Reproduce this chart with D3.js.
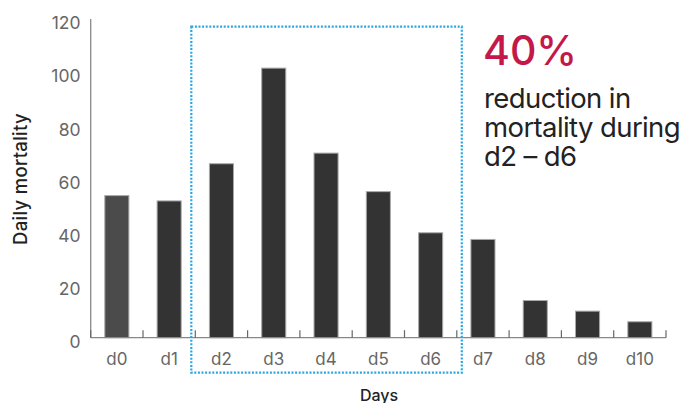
<!DOCTYPE html>
<html>
<head>
  <meta charset="utf-8">
  <title>Daily mortality</title>
  <script src="https://cdn.jsdelivr.net/npm/d3@7"></script>
  <style>
    body { margin: 0; background: #fff; }
    svg { display: block; font-family: Inter, "Noto Sans", sans-serif; }
  </style>
</head>
<body>
  <script>
    // data
    const days = ["d0", "d1", "d2", "d3", "d4", "d5", "d6", "d7", "d8", "d9", "d10"];
    const mortality = [53.5, 51.5, 65.5, 101.5, 69.5, 55, 39.5, 37, 14, 10, 6];
    const yTicks = [0, 20, 40, 60, 80, 100, 120];
    const highlight = ["d2", "d6"];

    const w = 683, h = 403;
    const left = 90.7, right = 666, bottom = 337.7;

    const x = d3.scaleBand()
      .domain(days)
      .range([left, right])
      .paddingInner(0.54)
      .paddingOuter(0.27);

    const y = d3.scaleLinear()
      .domain([0, 120])
      .range([bottom, 19]);

    const svg = d3.select("body").append("svg")
      .attr("width", w)
      .attr("height", h);

    // bars
    svg.selectAll("rect.bar")
      .data(days)
      .enter()
      .append("rect")
      .attr("class", "bar")
      .attr("x", d => x(d))
      .attr("y", (d, i) => y(mortality[i]))
      .attr("width", x.bandwidth())
      .attr("height", (d, i) => bottom - y(mortality[i]))
      .attr("fill", (d, i) => i === 0 ? "#4b4b4b" : "#333333")
      .attr("stroke", "#a8a8a8")
      .attr("stroke-width", 1);

    // y axis: plain line + labels (labels sit a little low)
    svg.append("line")
      .attr("x1", left).attr("x2", left)
      .attr("y1", y(120)).attr("y2", bottom)
      .attr("stroke", "#888").attr("stroke-width", 1.3);

    svg.selectAll("text.ytick")
      .data(yTicks)
      .enter()
      .append("text")
      .attr("class", "ytick")
      .attr("x", 80.5)
      .attr("y", d => y(d) + 4)
      .attr("dy", "0.36em")
      .attr("text-anchor", "end")
      .attr("font-size", 17.5)
      .attr("fill", "#666")
      .text(d => d);

    // x axis: baseline, short upward ticks at band edges
    svg.append("line")
      .attr("x1", left).attr("x2", right)
      .attr("y1", bottom).attr("y2", bottom)
      .attr("stroke", "#888").attr("stroke-width", 1.3);

    const edges = days.map((d, i) => left + i * x.step());
    edges.push(right);
    svg.selectAll("line.xtick")
      .data(edges)
      .enter()
      .append("line")
      .attr("class", "xtick")
      .attr("x1", d => d).attr("x2", d => d)
      .attr("y1", bottom).attr("y2", bottom - 7.5)
      .attr("stroke", "#666").attr("stroke-width", 1.2);

    svg.selectAll("text.xtick")
      .data(days)
      .enter()
      .append("text")
      .attr("class", "xtick")
      .attr("x", d => x(d) + x.bandwidth() / 2)
      .attr("y", 358.5)
      .attr("dy", "0.36em")
      .attr("text-anchor", "middle")
      .attr("font-size", 17)
      .attr("fill", "#666")
      .text(d => d);

    // axis titles
    svg.append("text")
      .attr("x", 379)
      .attr("y", 401)
      .attr("text-anchor", "middle")
      .attr("font-size", 16)
      .attr("font-weight", 500)
      .attr("fill", "#222")
      .text("Days");

    svg.append("text")
      .attr("transform", "translate(27,179) rotate(-90)")
      .attr("text-anchor", "middle")
      .attr("font-size", 18.5)
      .attr("letter-spacing", 0.3)
      .attr("font-weight", 500)
      .attr("fill", "#222")
      .text("Daily mortality");

    // dotted highlight box around d2..d6
    const bx0 = left + days.indexOf(highlight[0]) * x.step() - 4;
    const bx1 = left + (days.indexOf(highlight[1]) + 1) * x.step() + 5;
    svg.append("rect")
      .attr("x", bx0)
      .attr("y", 26.7)
      .attr("width", bx1 - bx0)
      .attr("height", 372.7 - 26.7)
      .attr("fill", "none")
      .attr("stroke", "#2aa7e1")
      .attr("stroke-width", 2.2)
      .attr("stroke-dasharray", "2,1.6");

    // annotation
    svg.append("text")
      .attr("x", 483)
      .attr("y", 65)
      .attr("font-size", 41)
      .attr("font-weight", 500)
      .attr("fill", "#c4184b")
      .text("40%");

    const note = ["reduction in", "mortality during", "d2 \u2013 d6"];
    svg.selectAll("text.note")
      .data(note)
      .enter()
      .append("text")
      .attr("class", "note")
      .attr("x", 484)
      .attr("y", (d, i) => 107.5 + i * 29)
      .attr("font-size", 27.5)
      .attr("letter-spacing", -0.6)
      .attr("fill", "#222")
      .text(d => d);
  </script>
</body>
</html>
